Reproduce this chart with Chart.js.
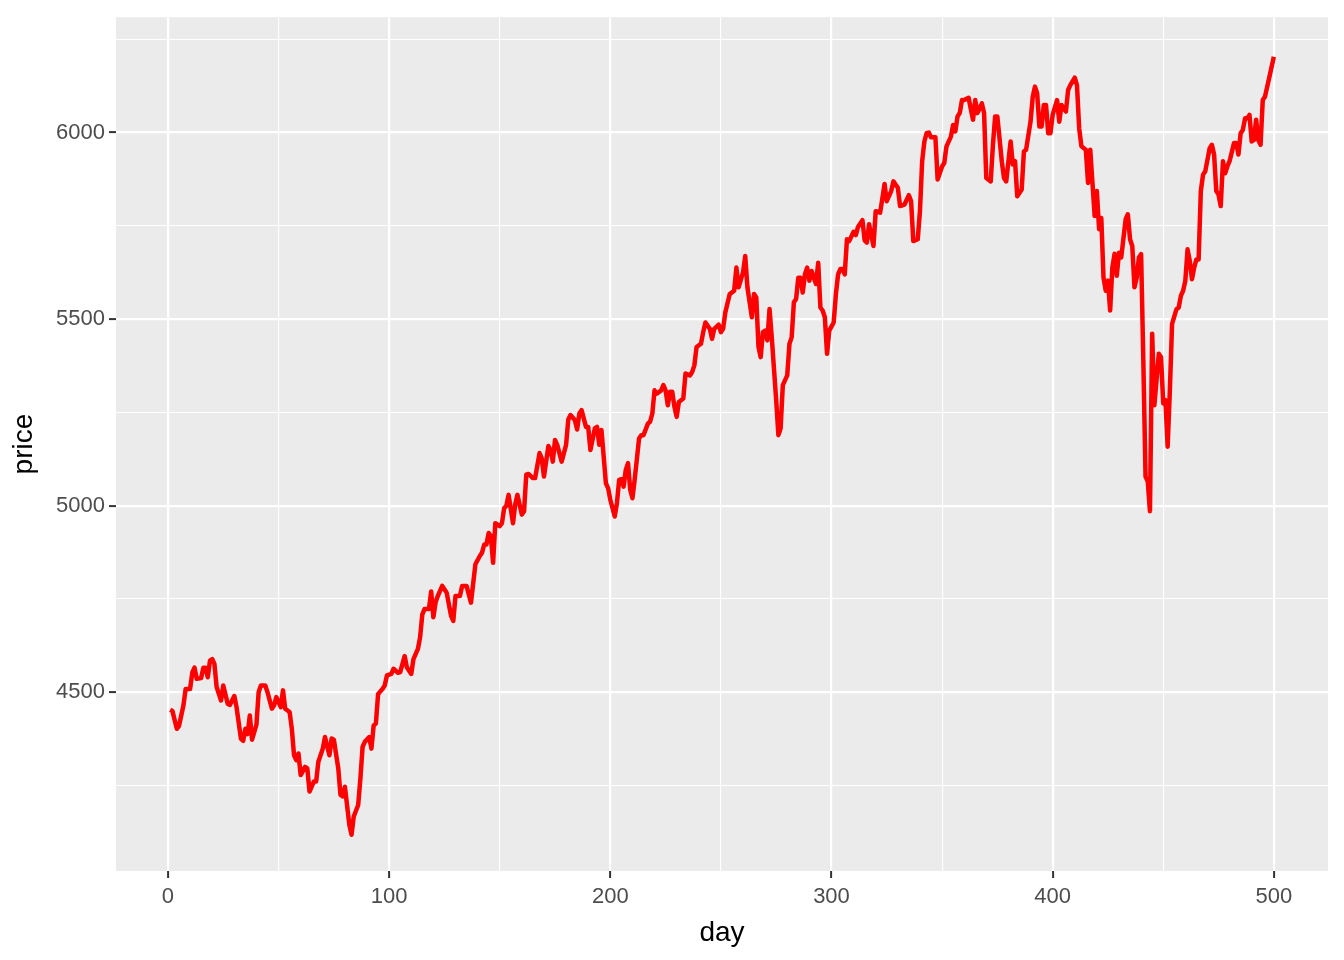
<!DOCTYPE html>
<html>
<head>
<meta charset="utf-8">
<script src="https://cdn.jsdelivr.net/npm/chart.js@4"></script>
<style>
  body { margin: 0; background: #fff; }
  #wrap { width: 1344px; height: 960px; }
</style>
</head>
<body>
<div id="wrap"><canvas id="priceChart"></canvas></div>
<script>
// values (day, price)
const days = [1, 2, 4, 5, 7, 8, 10, 11, 12, 13, 15, 16, 17, 18, 19, 20, 21, 22, 24, 25,
  27, 28, 30, 31, 33, 34, 35, 36, 37, 38, 40, 41, 42, 44, 45, 47, 48, 49, 51, 52,
  53, 55, 56, 57, 58, 59, 60, 62, 63, 64, 66, 67, 68, 70, 71, 73, 74, 75, 77, 78,
  79, 80, 82, 83, 84, 86, 87, 88, 89, 91, 92, 93, 94, 95, 97, 98, 99, 101, 102, 104,
  105, 107, 108, 110, 111, 113, 114, 115, 116, 118, 119, 120, 121, 122, 124, 126, 128, 129, 130, 132,
  133, 135, 137, 139, 141, 142, 143, 144, 145, 146, 147, 148, 150, 151, 152, 153, 154, 156, 157, 158,
  160, 161, 162, 163, 165, 166, 168, 169, 170, 172, 173, 174, 175, 176, 178, 180, 181, 182, 184, 185,
  186, 187, 189, 190, 191, 193, 194, 195, 196, 198, 199, 200, 202, 203, 204, 205, 206, 207, 208, 209,
  210, 211, 213, 214, 215, 217, 218, 219, 220, 221, 223, 224, 225, 226, 227, 228, 229, 230, 231, 233,
  234, 236, 237, 238, 239, 241, 242, 243, 245, 246, 247, 249, 250, 251, 252, 254, 256, 257, 258, 260,
  261, 262, 264, 265, 266, 267, 268, 269, 270, 271, 272, 273, 275, 276, 277, 278, 280, 281, 282, 283,
  284, 285, 286, 287, 288, 289, 290, 291, 293, 294, 295, 296, 297, 298, 299, 301, 302, 303, 304, 305,
  306, 307, 308, 310, 311, 312, 314, 315, 316, 317, 319, 320, 322, 324, 325, 327, 328, 330, 331, 333,
  335, 336, 337, 339, 340, 341, 342, 343, 344, 345, 347, 348, 350, 351, 352, 354, 355, 356, 357, 358,
  359, 360, 362, 363, 364, 365, 366, 368, 369, 370, 372, 373, 374, 375, 377, 378, 379, 381, 382, 383,
  384, 386, 387, 388, 390, 391, 392, 393, 394, 395, 396, 397, 398, 399, 400, 402, 403, 404, 406, 407,
  408, 410, 411, 412, 413, 415, 416, 417, 418, 419, 420, 421, 422, 423, 424, 425, 426, 427, 428, 429,
  430, 431, 433, 434, 435, 436, 437, 438, 439, 440, 441, 442, 443, 444, 445, 446, 448, 449, 450, 451,
  452, 453, 454, 456, 457, 458, 459, 460, 461, 462, 463, 464, 465, 466, 467, 468, 469, 471, 472, 473,
  474, 475, 476, 477, 478, 479, 480, 482, 483, 484, 485, 486, 487, 488, 489, 490, 491, 492, 493, 494,
  495, 496, 498, 500];

const prices = [4453, 4450, 4402, 4410, 4465, 4509, 4509, 4553, 4566, 4536, 4538, 4566, 4566, 4540, 4585, 4589, 4576, 4514, 4478, 4518,
  4469, 4466, 4490, 4460, 4375, 4370, 4402, 4388, 4438, 4373, 4413, 4500, 4518, 4518, 4500, 4456, 4465, 4487, 4460, 4505,
  4456, 4447, 4402, 4331, 4318, 4336, 4278, 4300, 4296, 4234, 4261, 4261, 4314, 4349, 4380, 4331, 4376, 4373, 4296, 4225,
  4221, 4247, 4145, 4118, 4167, 4198, 4269, 4354, 4367, 4380, 4349, 4411, 4416, 4495, 4509, 4518, 4545, 4549, 4563, 4552,
  4554, 4597, 4567, 4549, 4589, 4616, 4647, 4709, 4723, 4723, 4770, 4701, 4741, 4758, 4785, 4767, 4705, 4691, 4758, 4758,
  4785, 4785, 4740, 4843, 4865, 4874, 4896, 4896, 4927, 4918, 4847, 4953, 4945, 4953, 4993, 5000, 5029, 4953, 5003, 5029,
  4976, 4985, 5083, 5085, 5074, 5074, 5141, 5127, 5078, 5160, 5149, 5118, 5176, 5163, 5118, 5163, 5231, 5243, 5229, 5204,
  5247, 5256, 5211, 5211, 5149, 5207, 5211, 5163, 5203, 5060, 5047, 5016, 4971, 5007, 5069, 5071, 5051, 5096, 5114, 5043,
  5020, 5069, 5180, 5189, 5189, 5220, 5225, 5247, 5309, 5300, 5309, 5323, 5309, 5269, 5305, 5305, 5265, 5238, 5278, 5287,
  5354, 5349, 5358, 5376, 5425, 5434, 5465, 5491, 5474, 5447, 5474, 5485, 5465, 5474, 5518, 5567, 5576, 5638, 5585, 5625,
  5669, 5585, 5505, 5567, 5558, 5425, 5398, 5465, 5469, 5443, 5527, 5451, 5283, 5189, 5207, 5323, 5349, 5434, 5451, 5545,
  5554, 5611, 5611, 5571, 5620, 5638, 5603, 5629, 5594, 5651, 5531, 5523, 5505, 5407, 5469, 5491, 5567, 5620, 5634, 5634,
  5620, 5714, 5709, 5734, 5725, 5747, 5765, 5711, 5705, 5754, 5696, 5789, 5785, 5862, 5816, 5843, 5869, 5852, 5803, 5807,
  5832, 5816, 5709, 5714, 5789, 5923, 5976, 5998, 6000, 5987, 5987, 5874, 5909, 5918, 5963, 5989, 6020, 6003, 6043, 6052,
  6087, 6087, 6093, 6063, 6034, 6087, 6052, 6078, 6052, 5878, 5869, 5967, 6043, 6043, 5923, 5878, 5869, 5976, 5914, 5923,
  5829, 5847, 5949, 5954, 6029, 6096, 6123, 6105, 6016, 6016, 6074, 6074, 5998, 5998, 6047, 6087, 6029, 6074, 6056, 6114,
  6127, 6147, 6127, 6011, 5963, 5954, 5865, 5954, 5865, 5776, 5843, 5741, 5771, 5611, 5576, 5603, 5523, 5638, 5675, 5616,
  5678, 5665, 5767, 5781, 5714, 5696, 5585, 5611, 5665, 5674, 5389, 5078, 5065, 4985, 5461, 5269, 5407, 5398, 5274, 5283,
  5158, 5309, 5487, 5527, 5531, 5563, 5576, 5603, 5687, 5656, 5607, 5638, 5660, 5660, 5843, 5887, 5896, 5958, 5967, 5941,
  5843, 5834, 5803, 5923, 5891, 5909, 5923, 5972, 5972, 5941, 5998, 6007, 6038, 6038, 6047, 5976, 5980, 6034, 5980, 5967,
  6087, 6096, 6149, 6203];

const xMajor = [0, 100, 200, 300, 400, 500];
const xMinor = [50, 150, 250, 350, 450];
const yMajor = [4500, 5000, 5500, 6000];
const yMinor = [4250, 4750, 5250, 5750, 6250];

const fontFam = '"Liberation Sans", Arial, Helvetica, sans-serif';

// grey panel behind the plot, like ggplot's theme_gray
const panelBg = {
  id: 'panelBg',
  beforeDraw(chart) {
    const a = chart.chartArea;
    chart.ctx.save();
    chart.ctx.fillStyle = '#EBEBEB';
    chart.ctx.fillRect(a.left, a.top, a.right - a.left, a.bottom - a.top);
    chart.ctx.restore();
  }
};

function gridTicks(major, minor) {
  return major.concat(minor).sort((a, b) => a - b).map(v => ({ value: v }));
}

const ctx = document.getElementById('priceChart').getContext('2d');
new Chart(ctx, {
  type: 'line',
  data: {
    datasets: [{
      data: days.map((d, i) => ({ x: d, y: prices[i] })),
      borderColor: '#FF0000',
      borderWidth: 4.5,
      borderJoinStyle: 'round',
      borderCapStyle: 'butt',
      pointRadius: 0,
      tension: 0,
      fill: false
    }]
  },
  options: {
    responsive: true,
    maintainAspectRatio: false,
    animation: false,
    layout: { padding: { top: 13, right: 16, bottom: 0, left: 0 } },
    plugins: { legend: { display: false }, tooltip: { enabled: false } },
    scales: {
      x: {
        type: 'linear',
        min: -23.5,
        max: 524.5,
        afterBuildTicks: axis => { axis.ticks = gridTicks(xMajor, xMinor); },
        border: { display: false },
        grid: {
          color: '#FFFFFF',
          lineWidth: c => xMajor.includes(c.tick.value) ? 2.2 : 1.1,
          tickColor: c => xMajor.includes(c.tick.value) ? '#333333' : 'rgba(0,0,0,0)',
          tickWidth: 2,
          tickLength: 7
        },
        ticks: {
          autoSkip: false,
          maxRotation: 0,
          padding: 6,
          color: '#4D4D4D',
          font: { family: fontFam, size: 22 },
          callback: v => xMajor.includes(v) ? String(v) : ''
        },
        title: {
          display: true,
          text: 'day',
          color: '#000000',
          font: { family: fontFam, size: 28 },
          padding: { top: 0, bottom: 10 }
        }
      },
      y: {
        type: 'linear',
        min: 4021,
        max: 6309,
        afterBuildTicks: axis => { axis.ticks = gridTicks(yMajor, yMinor); },
        afterFit: axis => { axis.width = 116; },
        border: { display: false },
        grid: {
          color: '#FFFFFF',
          lineWidth: c => yMajor.includes(c.tick.value) ? 2.2 : 1.1,
          tickColor: c => yMajor.includes(c.tick.value) ? '#333333' : 'rgba(0,0,0,0)',
          tickWidth: 2,
          tickLength: 7
        },
        ticks: {
          autoSkip: false,
          padding: 4,
          color: '#4D4D4D',
          font: { family: fontFam, size: 22 },
          callback: v => yMajor.includes(v) ? String(v) : ''
        },
        title: {
          display: true,
          text: 'price',
          color: '#000000',
          font: { family: fontFam, size: 28 },
          padding: { top: 7, bottom: 4 }
        }
      }
    }
  },
  plugins: [panelBg]
});
</script>
</body>
</html>
